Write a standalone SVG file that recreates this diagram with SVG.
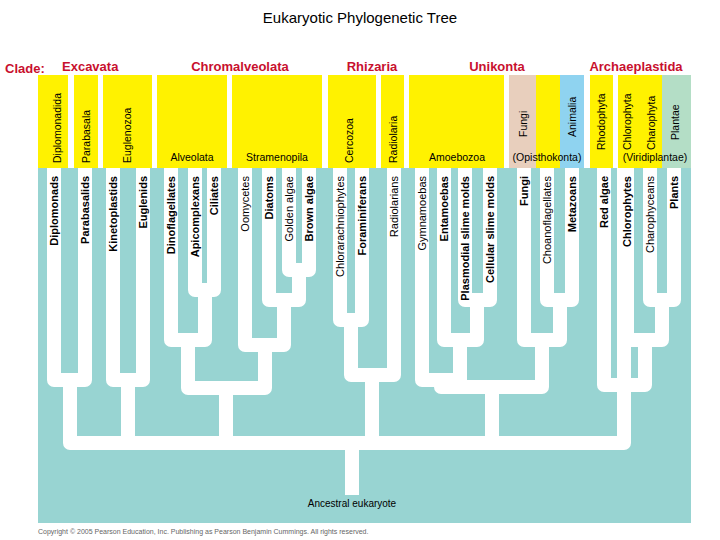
<svg xmlns="http://www.w3.org/2000/svg" width="720" height="540" viewBox="0 0 720 540">
<style>
.t{font-family:"Liberation Sans",Arial,sans-serif;fill:#000}
.lf{font-size:11px}
.b{font-weight:bold}
.g{font-size:10.5px}
.cl{font-family:"Liberation Sans",Arial,sans-serif;font-size:13px;font-weight:bold;fill:#c8102e}
.br{fill:none;stroke:#fff;stroke-width:14;stroke-linejoin:round}
.y{fill:#fff200}
</style>
<rect width="720" height="540" fill="#fff"/>
<text class="t" x="360" y="23" font-size="15" text-anchor="middle">Eukaryotic Phylogenetic Tree</text>
<g id="clades">
<text class="cl" x="5" y="73">Clade:</text>
<text class="cl" x="62" y="71">Excavata</text>
<text class="cl" x="240" y="71" text-anchor="middle">Chromalveolata</text>
<text class="cl" x="372" y="71" text-anchor="middle">Rhizaria</text>
<text class="cl" x="497" y="71" text-anchor="middle">Unikonta</text>
<text class="cl" x="636" y="71" text-anchor="middle">Archaeplastida</text>
</g>
<g id="groups">
<rect class="y" x="38" y="75" width="30" height="93"/>
<rect class="y" x="74" y="75" width="24" height="93"/>
<rect class="y" x="103" y="75" width="49" height="93"/>
<rect class="y" x="157" y="75" width="70" height="93"/>
<rect class="y" x="232" y="75" width="90" height="93"/>
<rect class="y" x="328" y="75" width="48" height="93"/>
<rect class="y" x="381" y="75" width="23" height="93"/>
<rect class="y" x="409" y="75" width="95" height="93"/>
<rect x="509" y="75" width="27" height="93" fill="#e8cfbd"/>
<rect class="y" x="536" y="75" width="24" height="93"/>
<rect x="560" y="75" width="24" height="93" fill="#8fd3f0"/>
<rect class="y" x="590" y="75" width="23" height="93"/>
<rect class="y" x="618" y="75" width="44" height="93"/>
<rect x="662" y="75" width="29" height="93" fill="#b4dec6"/>
<g class="t g">
<text transform="translate(61,163) rotate(-90)">Diplomonadida</text>
<text transform="translate(90,163) rotate(-90)">Parabasala</text>
<text transform="translate(131,163) rotate(-90)">Euglenozoa</text>
<text transform="translate(353,163) rotate(-90)">Cercozoa</text>
<text transform="translate(397,163) rotate(-90)">Radiolaria</text>
<text transform="translate(527,137) rotate(-90)">Fungi</text>
<text transform="translate(576,137) rotate(-90)">Animalia</text>
<text transform="translate(605,150) rotate(-90)">Rhodophyta</text>
<text transform="translate(631,150) rotate(-90)">Chlorophyta</text>
<text transform="translate(655,150) rotate(-90)">Charophyta</text>
<text transform="translate(679,140) rotate(-90)">Plantae</text>
<text x="192" y="161" text-anchor="middle">Alveolata</text>
<text x="277" y="161" text-anchor="middle">Stramenopila</text>
<text x="457" y="161" text-anchor="middle">Amoebozoa</text>
<text x="547" y="161" text-anchor="middle">(Opisthokonta)</text>
<text x="655" y="161" text-anchor="middle">(Viridiplantae)</text>
</g>
</g>
<rect x="38" y="168" width="653" height="355" fill="#98d4d2"/>
<g id="connectors" class="br">
<path d="M54 168V380H85V168M70 380V443H624V168"/>
<path d="M113 168V380H143V168M128 380V443"/>
<path d="M195 168V290H214V168M205 290V340H171V168M188 340V388H265V345H245V168M265 345H284V300H269V168M284 300H299V270H289V168M299 270H309V168M226 388V443"/>
<path d="M340 168V320H362V168M351 320V375H394V168M372 375V443"/>
<path d="M465 168V300H490V168M477 300V340H444V168M460 340V380H422V168M441 380V387H542V340H524V168M542 340H560V300H547V168M560 300H572V168M492 387V443"/>
<path d="M650 168V300H674V168M662 300V340H627V168M645 340V385H604V168M624 385V443"/>
<path d="M352 443V495"/>
</g>
<g id="leaves" class="t lf">
<text class="b" transform="translate(58,176) rotate(-90)" text-anchor="end">Diplomonads</text>
<text class="b" transform="translate(89,176) rotate(-90)" text-anchor="end">Parabasalids</text>
<text class="b" transform="translate(117,176) rotate(-90)" text-anchor="end">Kinetoplastids</text>
<text class="b" transform="translate(147,176) rotate(-90)" text-anchor="end">Euglenids</text>
<text class="b" transform="translate(175,176) rotate(-90)" text-anchor="end">Dinoflagellates</text>
<text class="b" transform="translate(199,176) rotate(-90)" text-anchor="end">Apicomplexans</text>
<text class="b" transform="translate(218,176) rotate(-90)" text-anchor="end">Ciliates</text>
<text transform="translate(249,176) rotate(-90)" text-anchor="end">Oomycetes</text>
<text class="b" transform="translate(273,176) rotate(-90)" text-anchor="end">Diatoms</text>
<text transform="translate(293,176) rotate(-90)" text-anchor="end">Golden algae</text>
<text class="b" transform="translate(313,176) rotate(-90)" text-anchor="end">Brown algae</text>
<text transform="translate(344,176) rotate(-90)" text-anchor="end">Chlorarachniophytes</text>
<text class="b" transform="translate(366,176) rotate(-90)" text-anchor="end">Foraminiferans</text>
<text transform="translate(398,176) rotate(-90)" text-anchor="end">Radiolarians</text>
<text transform="translate(426,176) rotate(-90)" text-anchor="end">Gymnamoebas</text>
<text class="b" transform="translate(448,176) rotate(-90)" text-anchor="end">Entamoebas</text>
<text class="b" transform="translate(469,176) rotate(-90)" text-anchor="end">Plasmodial slime molds</text>
<text class="b" transform="translate(494,176) rotate(-90)" text-anchor="end">Cellular slime molds</text>
<text class="b" transform="translate(528,176) rotate(-90)" text-anchor="end">Fungi</text>
<text transform="translate(551,176) rotate(-90)" text-anchor="end">Choanoflagellates</text>
<text class="b" transform="translate(576,176) rotate(-90)" text-anchor="end">Metazoans</text>
<text class="b" transform="translate(608,176) rotate(-90)" text-anchor="end">Red algae</text>
<text class="b" transform="translate(631,176) rotate(-90)" text-anchor="end">Chlorophytes</text>
<text transform="translate(654,176) rotate(-90)" text-anchor="end">Charophyceans</text>
<text class="b" transform="translate(678,176) rotate(-90)" text-anchor="end">Plants</text>
</g>
<text class="t" x="352" y="507" font-size="10" text-anchor="middle">Ancestral eukaryote</text>
<text x="38" y="534" font-family="Liberation Sans,Arial,sans-serif" font-size="7" fill="#666">Copyright © 2005 Pearson Education, Inc. Publishing as Pearson Benjamin Cummings. All rights reserved.</text>
</svg>
